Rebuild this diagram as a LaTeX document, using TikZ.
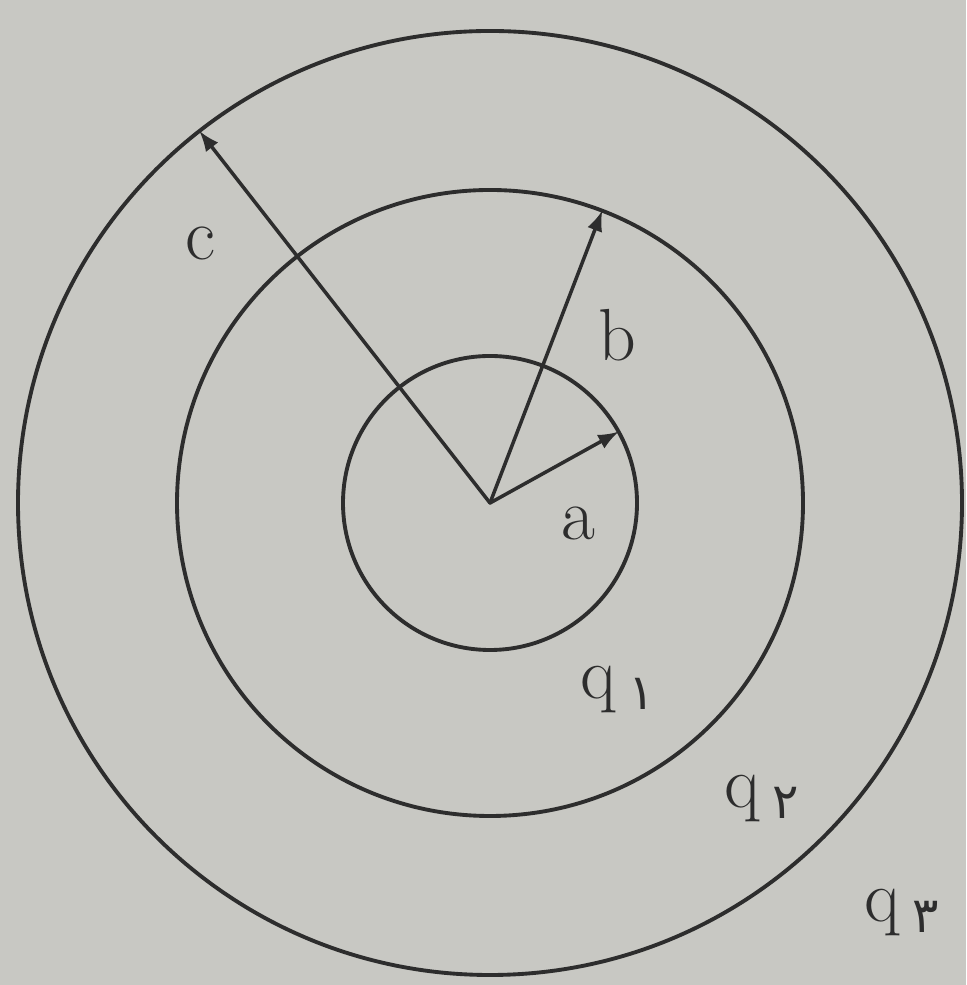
\documentclass[tikz,border=0pt]{standalone}
\usepackage{fontspec}
\usetikzlibrary{calc}
\newfontfamily\fadigits[Script=Arabic]{DejaVu Sans}
\definecolor{paper}{RGB}{200,200,195}
\definecolor{ink}{RGB}{45,45,45}
\tikzset{
  shell/.style={draw=ink,line width=1.1pt},
  radius line/.style={draw=ink,line width=1pt,-latex},
  lbl/.style={text=ink,inner sep=0pt,font=\fontsize{21}{24}\selectfont}
}
\begin{document}
\begin{tikzpicture}[line cap=round,line join=round]
  \fill[paper] (0,0) rectangle (9.66,9.85);
  \useasboundingbox (0,0) rectangle (9.66,9.85);
  \coordinate (O) at (4.90,4.82);
  % the three shells
  \draw[shell] (O) circle (1.47);
  \draw[shell] (O) circle (3.13);
  \draw[shell] (O) circle (4.72);
  \coordinate (A) at ($(O)+(29:1.47)$);
  \coordinate (B) at ($(O)+(69:3.13)$);
  \coordinate (C) at ($(O)+(128:4.72)$);
  \draw[radius line] (O) -- (A);
  \draw[radius line] (O) -- (B);
  \draw[radius line] (O) -- (C);
  % labels
  \node[lbl] (la) at (5.78,4.62) {a};
  \node[lbl] (lb) at (6.17,6.50) {b};
  \node[lbl] (lc) at (2.00,7.42) {c};
  \node[lbl] (q1) at (6.18,2.95) {q\,\raisebox{-3pt}{\fontsize{14}{16}\fadigits ۱}};
  \node[lbl] (q2) at (7.62,1.86) {q\,\raisebox{-3pt}{\fontsize{14}{16}\fadigits ۲}};
  \node[lbl] (q3) at (9.02,0.72) {q\,\raisebox{-3pt}{\fontsize{14}{16}\fadigits ۳}};
\end{tikzpicture}
\end{document}
